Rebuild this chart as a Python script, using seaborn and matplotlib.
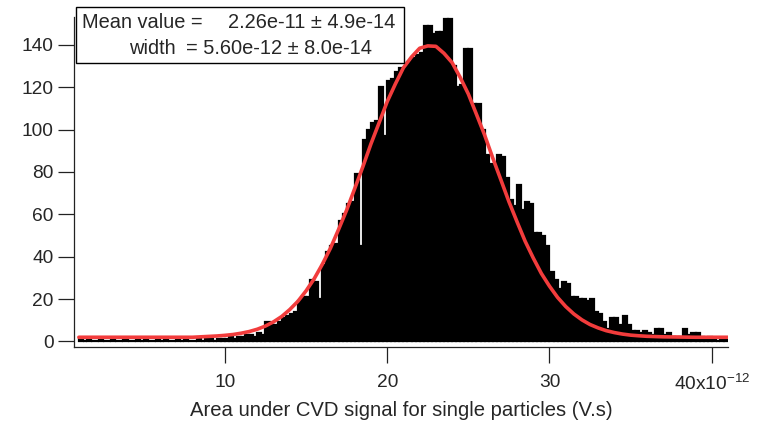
import numpy as np
import pandas as pd
import matplotlib
matplotlib.use("Agg")
import matplotlib.pyplot as plt
import seaborn as sns
from matplotlib.patches import Rectangle

# ---- data (x in units of 1e-12 V.s) ----
bin_width = 0.25
bin_start = 1.0
counts = [
    # 1.0 - 9.75
    1, 0, 1, 0,   0, 1, 0, 0,   1, 0, 0, 1,   0, 0, 1, 0,   1, 0, 0, 1,
    0, 1, 0, 0,   1, 0, 1, 0,   0, 1, 0, 1,   1, 0, 1, 1,
    # 10 - 14.75
    1, 2, 1, 2,   2, 3, 3, 2,   4, 3, 9, 8,   8, 9, 11, 12,  13, 14, 19, 21,
    # 15 - 19.75
    21, 29, 28, 20,  36, 42, 45, 46,  57, 60, 65, 66,  79, 45, 95, 100,  103, 104, 120, 97,
    # 20 - 24.75
    123, 124, 127, 129,  129, 132, 134, 135,  136, 149, 149, 145,  146, 146, 152, 152,  130, 120, 121, 138,
    # 25 - 29.75
    138, 112, 112, 100,  88, 84, 83, 88,  87, 77, 67, 64,  74, 62, 66, 65,  51, 51, 50, 45,
    # 30 - 34.75
    33, 29, 25, 28,  27, 21, 21, 20,  20, 19, 20, 14,  13, 9, 6, 11,  11, 8, 12, 8,
    # 35 - 40.75
    5, 5, 4, 5,  4, 3, 6, 6,  3, 4, 2, 2,  2, 6, 3, 4,  4, 2, 1, 2,  1, 0, 1, 1,
]
# fitted curve
fit_x = [1, 2, 3, 4, 5, 6, 7, 8, 9, 9.5, 10, 10.5, 11, 11.5, 12, 12.5, 13, 13.5,
         14, 14.5, 15, 15.5, 16, 16.5, 17, 17.5, 18, 18.5, 19, 19.5, 20, 20.5,
         21, 21.5, 22, 22.5, 23, 23.5, 24, 24.5, 25, 25.5, 26, 26.5, 27, 27.5,
         28, 28.5, 29, 29.5, 30, 30.5, 31, 31.5, 32, 32.5, 33, 33.5, 34, 34.5,
         35, 35.5, 36, 37, 38, 39, 40, 41]
fit_y = [2.0, 2.0, 2.0, 2.0, 2.0, 2.0, 2.0, 2.0, 2.4, 2.6, 2.9, 3.3, 3.9, 4.7,
         5.8, 7.3, 9.3, 11.8, 15.1, 19.0, 23.9, 29.6, 36.4, 44.0, 52.8, 62.0,
         72.2, 82.5, 93.3, 103.2, 113.2, 121.5, 129.2, 134.3, 138.4, 139.5,
         139.3, 136.0, 131.6, 124.6, 116.8, 107.2, 97.5, 86.7, 76.4, 66.0,
         56.5, 47.3, 39.4, 32.1, 26.1, 20.8, 16.5, 13.0, 10.2, 8.0, 6.4, 5.1,
         4.2, 3.5, 3.0, 2.7, 2.45, 2.2, 2.1, 2.0, 2.0, 2.0]
x_ticks = [10, 20, 30, 40]
x_ticklabels = ["10", "20", "30", "40x10$^{-12}$"]
y_ticks = [0, 20, 40, 60, 80, 100, 120, 140]
xlabel = "Area under CVD signal for single particles (V.s)"
fit_line1 = ("Mean value =", "2.26e-11 \u00b1 4.9e-14")
fit_line2 = ("width", "= 5.60e-12 \u00b1 8.0e-14")

edges = [bin_start + bin_width * i for i in range(len(counts) + 1)]
centers = [bin_start + bin_width * (i + 0.5) for i in range(len(counts))]
df = pd.DataFrame({"x": centers, "n": counts})
fit_df = pd.DataFrame({"x": fit_x, "y": fit_y})

sns.set_theme(style="ticks")
plt.rcParams["font.family"] = ["Liberation Sans", "DejaVu Sans"]
plt.rcParams["mathtext.default"] = "regular"

W, H = 758, 421
fig = plt.figure(figsize=(W / 100, H / 100), dpi=100)
ax = fig.add_axes([74 / W, 1 - 347 / H, (728 - 74) / W, (347 - 17.3) / H])

sns.histplot(data=df, x="x", weights="n", bins=edges, color="black",
             edgecolor="black", linewidth=1.6, alpha=1, ax=ax)
sns.lineplot(data=fit_df, x="x", y="y", color="#f23c3c", linewidth=2.6, ax=ax)

ax.set_xlim(0.7, 41.0)
ax.set_ylim(-2.6, 153)
ax.set_xticks(x_ticks)
ax.set_xticklabels(x_ticklabels)
ax.set_yticks(y_ticks)
ax.set_ylabel("")
ax.set_xlabel(xlabel, fontsize=14.6, labelpad=5)
for s in ["top", "right"]:
    ax.spines[s].set_visible(False)
for s in ["left", "bottom"]:
    ax.spines[s].set_linewidth(0.9)
    ax.spines[s].set_color("#222222")
ax.tick_params(axis="both", direction="out", length=11.5, width=0.9,
               color="#222222", labelsize=13.8)
ax.tick_params(axis="x", pad=8)
ax.tick_params(axis="y", pad=3)

# fit result box
fig.add_artist(Rectangle((76 / W, 1 - 63 / H), (404 - 76) / W, (63 - 7) / H,
                         transform=fig.transFigure, facecolor="white",
                         edgecolor="black", linewidth=1.0, zorder=10))
fs = 14.4
fig.text(82 / W, 1 - 23 / H, fit_line1[0], fontsize=fs, va="center", ha="left", zorder=11)
fig.text(228 / W, 1 - 23 / H, fit_line1[1], fontsize=fs, va="center", ha="left", zorder=11)
fig.text(129 / W, 1 - 48 / H, fit_line2[0], fontsize=fs, va="center", ha="left", zorder=11)
fig.text(186 / W, 1 - 48 / H, fit_line2[1], fontsize=fs, va="center", ha="left", zorder=11)

fig.savefig("out.png", dpi=100)
